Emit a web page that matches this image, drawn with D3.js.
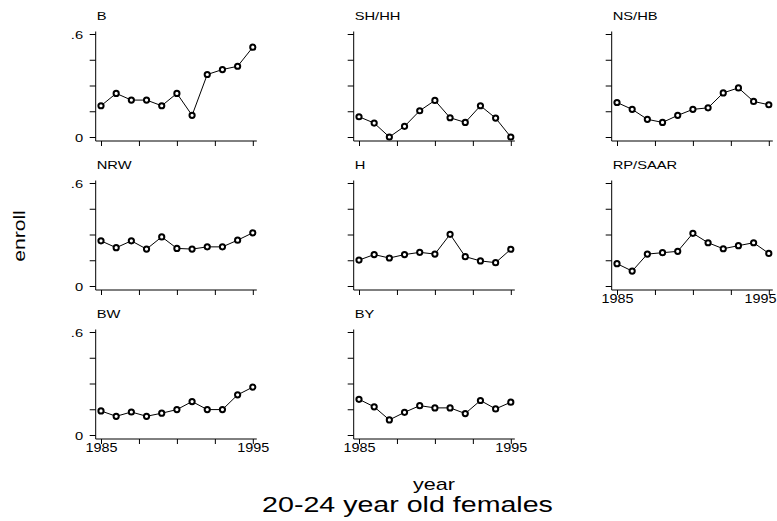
<!DOCTYPE html>
<html>
<head>
<meta charset="utf-8">
<script src="https://cdn.jsdelivr.net/npm/d3@7"></script>
<style>
body { margin: 0; background: #fff; }
text { font-family: "Liberation Sans", Arial, sans-serif; fill: #000; }
</style>
</head>
<body>
<script>
let width = 777;
let height = 521;

// data

let years = [1985, 1986, 1987, 1988, 1989, 1990, 1991, 1992, 1993, 1994, 1995];
let panels = ["B", "SH/HH", "NS/HB", "NRW", "H", "RP/SAAR", "BW", "BY"];

let valB    = [0.182, 0.254, 0.215, 0.215, 0.182, 0.254, 0.126, 0.364, 0.393, 0.412, 0.523];
let valSHHH = [0.118, 0.081, 0.000, 0.062, 0.153, 0.213, 0.112, 0.085, 0.182, 0.110, 0.000];
let valNSHB = [0.201, 0.161, 0.103, 0.085, 0.126, 0.161, 0.170, 0.257, 0.286, 0.207, 0.188];
let valNRW  = [0.263, 0.223, 0.263, 0.215, 0.286, 0.219, 0.215, 0.228, 0.228, 0.267, 0.310];
let valH    = [0.151, 0.183, 0.163, 0.183, 0.196, 0.186, 0.301, 0.171, 0.146, 0.136, 0.214];
let valRPSA = [0.130, 0.087, 0.186, 0.194, 0.202, 0.307, 0.252, 0.217, 0.235, 0.252, 0.190];
let valBW   = [0.140, 0.109, 0.134, 0.109, 0.127, 0.148, 0.195, 0.148, 0.148, 0.234, 0.279];
let valBY   = [0.208, 0.164, 0.088, 0.132, 0.171, 0.158, 0.158, 0.125, 0.201, 0.152, 0.191];

let series = [valB, valSHHH, valNSHB, valNRW, valH, valRPSA, valBW, valBY];

let yTicks = [0, 0.15, 0.3, 0.45, 0.6];
let yTickLabels = ["0", "", "", "", ".6"];
let xTicks = [1985, 1987.5, 1990, 1992.5, 1995];
let xTickLabels = ["1985", "", "", "", "1995"];

let yTitle = "enroll";
let xTitle = "year";
let mainTitle = "20-24 year old females";

// layout

let axisX0 = 95.7, colStep = 258;
let plotTop0 = 34, rowStep = 149;
let gap = 5.3, plotW = 151.8, plotH = 103;

let xScale = d3.scaleLinear().domain([1985, 1995]).range([0, plotW]);
let yScale = d3.scaleLinear().domain([0, 0.6]).range([plotH, 0]);

let svg = d3.select("body")
    .append("svg")
    .attr("width", width)
    .attr("height", height);

// wide text, like the original
function wideText(sel, x, y, str, size, sx, anchor, rot) {
    let g = sel.append("g")
        .attr("transform", "translate(" + x + "," + y + ") rotate(" + (rot || 0) + ") scale(" + sx + ",1)");
    g.append("text")
        .attr("text-anchor", anchor)
        .attr("font-size", size)
        .text(str);
}

let line = d3.line()
    .x(function(d, i) { return xScale(years[i]); })
    .y(function(d) { return yScale(d); });

panels.forEach(function(name, i) {
    let col = i % 3;
    let row = Math.floor(i / 3);
    let ax = axisX0 + col * colStep;
    let top = plotTop0 + row * rowStep;

    let g = svg.append("g")
        .attr("transform", "translate(" + (ax + gap) + "," + top + ")");

    // axis lines
    g.append("line")
        .attr("x1", -gap).attr("x2", -gap)
        .attr("y1", -2.5).attr("y2", plotH + 4)
        .attr("stroke", "#000").attr("stroke-width", 1);
    g.append("line")
        .attr("x1", -gap).attr("x2", plotW + 4)
        .attr("y1", plotH + 4).attr("y2", plotH + 4)
        .attr("stroke", "#000").attr("stroke-width", 1);

    // y ticks
    let yAxis = d3.axisLeft(yScale)
        .tickValues(yTicks)
        .tickSize(6)
        .tickSizeOuter(0)
        .tickPadding(3)
        .tickFormat(function(d, k) { return col === 0 ? yTickLabels[k] : ""; });
    let ya = g.append("g")
        .attr("transform", "translate(" + (-gap) + ",0)")
        .call(yAxis);
    ya.select(".domain").remove();
    ya.selectAll(".tick text")
        .attr("font-size", 10.5)
        .attr("font-family", "Liberation Sans, Arial, sans-serif")
        .attr("dy", "0.45em")
        .attr("transform", "scale(1.4,1)");

    // x ticks
    let showX = i + 3 >= panels.length;
    let xAxis = d3.axisBottom(xScale)
        .tickValues(xTicks)
        .tickSize(5)
        .tickSizeOuter(0)
        .tickFormat(function(d, k) { return showX ? xTickLabels[k] : ""; });
    let xa = g.append("g")
        .attr("transform", "translate(0," + (plotH + 4) + ")")
        .call(xAxis);
    xa.select(".domain").remove();
    xa.selectAll(".tick text")
        .attr("font-size", 12.5)
        .attr("font-family", "Liberation Sans, Arial, sans-serif")
        .attr("y", 13)
        .attr("dy", 0)
        .attr("transform", "scale(1.15,1)");

    // keep the last year label inside the page
    if (ax + gap + plotW + 18 > width) {
        xa.selectAll(".tick text")
            .filter(function(d) { return d === 1995; })
            .attr("text-anchor", "end")
            .attr("x", (width - 1 - (ax + gap + plotW)) / 1.15);
    }

    svg.selectAll(".tick line").attr("stroke", "#000");

    // panel title
    wideText(g, -gap + 1, -14, name, 10.5, 1.4, "start");

    // series
    g.append("path")
        .datum(series[i])
        .attr("d", line)
        .attr("fill", "none")
        .attr("stroke", "#000")
        .attr("stroke-width", 1);

    g.selectAll("circle")
        .data(series[i])
        .enter()
        .append("circle")
        .attr("cx", function(d, k) { return xScale(years[k]); })
        .attr("cy", function(d) { return yScale(d); })
        .attr("r", 2.6)
        .attr("fill", "#fff")
        .attr("stroke", "#000")
        .attr("stroke-width", 2);
});

// titles

wideText(svg, 25, 236, yTitle, 16, 1.32, "middle", -90);
wideText(svg, 434, 490, xTitle, 16, 1.35, "middle");
wideText(svg, 407.5, 512, mainTitle, 22, 1.3, "middle");
</script>
</body>
</html>
